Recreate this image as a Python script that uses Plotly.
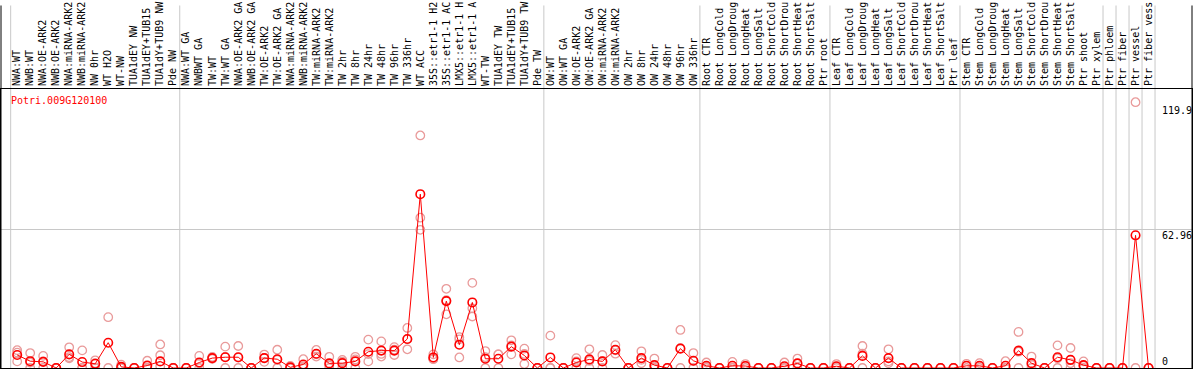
import plotly.graph_objects as go

labels = [
    "NWA:WT", "NWB:WT", "NWA:OE-ARK2", "NWB:OE-ARK2", "NWA:miRNA-ARK2", "NWB:miRNA-ARK2",
    "NW 0hr", "WT H2O", "WT-NW", "TUA1dEY NW", "TUA1dEY+TUB15", "TUA1dY+TUB9 NW", "Pde NW",
    "NWA:WT GA", "NWBWT GA", "TW:WT", "TW:WT GA", "NWA:OE-ARK2 GA", "NWB:OE-ARK2 GA",
    "TW:OE-ARK2", "TW:OE-ARK2 GA", "NWA:miRNA-ARK2", "NWB:miRNA-ARK2", "TW:miRNA-ARK2",
    "TW:miRNA-ARK2", "TW 2hr", "TW 8hr", "TW 24hr", "TW 48hr", "TW 96hr", "TW 336hr",
    "WT ACC", "35S::etr1-1 H2", "35S::etr1-1 AC", "LMX5::etr1-1 H", "LMX5::etr1-1 A",
    "WT-TW", "TUA1dEY TW", "TUA1dEY+TUB15", "TUA1dY+TUB9 TW", "Pde TW",
    "OW:WT", "OW:WT GA", "OW:OE-ARK2", "OW:OE-ARK2 GA", "OW:miRNA-ARK2", "OW:miRNA-ARK2",
    "OW 2hr", "OW 8hr", "OW 24hr", "OW 48hr", "OW 96hr", "OW 336hr",
    "Root CTR", "Root LongCold", "Root LongDroug", "Root LongHeat", "Root LongSalt",
    "Root ShortCold", "Root ShortDrou", "Root ShortHeat", "Root ShortSalt", "Ptr root",
    "Leaf CTR", "Leaf LongCold", "Leaf LongDroug", "Leaf LongHeat", "Leaf LongSalt",
    "Leaf ShortCold", "Leaf ShortDrou", "Leaf ShortHeat", "Leaf ShortSalt", "Ptr leaf",
    "Stem CTR", "Stem LongCold", "Stem LongDroug", "Stem LongHeat", "Stem LongSalt",
    "Stem ShortCold", "Stem ShortDrou", "Stem ShortHeat", "Stem ShortSalt", "Ptr shoot",
    "Ptr xylem", "Ptr phloem", "Ptr fiber", "Ptr vessel", "Ptr fiber vess",
]

means = [
    5.9, 3.1, 2.8, 0, 6.2, 2.7, 1.9, 11.5, 0.5, 0, 1.1, 3.0, 0,
    0, 2.5, 4.5, 4.9, 4.9, 0, 4.5, 4.0, 0.3, 1.6, 6.5, 2.1, 2.2, 3.0, 7.4, 7.9, 7.9, 13.2,
    79.0, 4.8, 30.4, 10.6, 29.8, 4.2, 4.2, 9.7, 5.7, 0,
    4.8, 0, 2.5, 3.9, 3.0, 8.3, 0, 4.5, 1.3, 0, 8.8, 3.3,
    1.0, 0, 1.0, 0.9, 0, 0, 0.8, 2.1, 0, 0,
    0.8, 0, 5.5, 0, 4.5, 0, 0, 0, 0, 0,
    1.0, 1.0, 0, 1.0, 7.9, 2.2, 0, 4.9, 3.7, 1.3, 0,
    0, 0, 60.3, 0,
]

rep_a = [
    8.1, 6.8, 5.5, 0, 9.4, 8.0, 3.5, 23.1, 1.5, 0, 3.3, 10.7, 0,
    0, 5.5, 5.0, 9.7, 10.0, 0, 6.1, 8.3, 0.9, 4.0, 8.2, 5.1, 3.7, 5.1, 12.9, 12.1, 9.5, 18.2,
    105.7, 6.2, 36.0, 14.0, 38.7, 7.7, 6.2, 12.6, 8.8, 0,
    14.7, 0, 4.5, 8.5, 5.9, 10.4, 0, 7.6, 4.3, 0, 17.3, 6.8,
    2.5, 0, 2.8, 1.8, 0, 0, 2.5, 4.3, 0, 0,
    1.8, 0, 10.0, 0, 8.5, 0, 0, 0, 0, 0,
    1.9, 2.2, 0, 3.1, 16.4, 5.2, 0, 10.3, 9.1, 3.0, 0,
    0, 0, 120.8, 0,
]

rep_b = [
    7.0, 2.5, 3.0, 0, 4.9, 0, 2.2, 0, 0, 0, 0, 5.8, 0,
    0, 2.0, 4.3, 5.0, 4.7, 0, 4.6, 3.7, 0, 0.8, 6.2, 1.2, 2.9, 3.9, 6.3, 6.4, 8.3, 13.0,
    68.3, 4.2, 30.8, 13.0, 27.1, 4.9, 6.2, 10.3, 6.4, 0,
    0, 0, 3.0, 3.2, 3.1, 8.0, 0, 3.7, 0, 0, 9.0, 3.2,
    0.5, 0, 0.2, 0.9, 0, 0, 0, 2.0, 0, 0,
    0.6, 0, 6.5, 0, 3.0, 0, 0, 0, 0, 0,
    1.0, 0.8, 0, 0, 7.4, 1.4, 0, 4.4, 2.2, 1.0, 0,
    0, 0, 0, 0,
]

rep_c = [
    3.0, 0, 0, 0, 4.4, 0, 0, None, 0, 0, 0, 0.8, 0,
    0, 0, 4.2, 0, 0, 0, 2.8, 0, 0, 0, 5.2, 0, 0, 0, 3.0, 5.2, 5.9, 8.5,
    62.8, 4.0, 24.4, 4.8, 23.4, 0, 0, 6.2, 1.8, 0,
    0, 0, 0, 0, 0, 6.5, 0, 2.2, 0, 0, 0, 0,
    0, 0, 0, 0, 0, 0, 0, 0, 0, 0,
    0, 0, 0, 0, 2.2, 0, 0, 0, 0, 0,
    0, 0, 0, 0, 0, 0, 0, 0, 0, 0, 0,
    0, 0, None, 0,
]

group_bounds = [-0.5, 12.5, 40.5, 52.5, 62.5, 72.5, 83.5, 84.5, 85.5, 86.5, 87.5]
y_ticks = [0, 62.96, 119.9]
gene = "Potri.009G120100"

W, H = 1194, 370
ML, MR, MT, MB = 1, 1, 85, 1
plot_w = W - ML - MR
plot_h = H - MT - MB
step = 13.015
c0 = 17.2  # pixel of first category centre
x_lo = (ML - c0) / step
x_hi = (W - MR - c0) / step
y_hi = plot_h / 2.2397

xs = list(range(len(labels)))
mono = "DejaVu Sans Mono"

fig = go.Figure()
for reps in (rep_a, rep_b, rep_c):
    fig.add_trace(go.Scatter(
        x=xs, y=reps, mode="markers",
        marker=dict(symbol="circle-open", size=8.5, color="#e99a9a",
                    line=dict(width=1.3, color="#e99a9a")),
        showlegend=False, hoverinfo="skip",
    ))
fig.add_trace(go.Scatter(
    x=xs, y=means, mode="lines+markers",
    line=dict(color="#ff0000", width=1),
    marker=dict(symbol="circle-open", size=8.5, color="#ff0000",
                line=dict(width=1.6, color="#ff0000")),
    showlegend=False,
))

top_paper = 1 + MT / plot_h
shapes = []
for b in group_bounds:
    shapes.append(dict(type="line", xref="x", yref="paper", x0=b, x1=b, y0=0, y1=top_paper,
                       line=dict(color="#c8c8c8", width=1), layer="below"))
for xp in (0, 1):
    shapes.append(dict(type="line", xref="paper", yref="paper", x0=xp, x1=xp, y0=0, y1=top_paper,
                       line=dict(color="black", width=1)))

annotations = [dict(
    text=gene, xref="paper", yref="paper", x=(10 - ML) / plot_w, y=1 - (97 - MT) / plot_h,
    xanchor="left", yanchor="middle", showarrow=False, borderpad=0,
    font=dict(family=mono, size=10, color="#ff0000"),
)]
for v in y_ticks:
    annotations.append(dict(
        text=("0" if v == 0 else str(v)), xref="paper", yref="y",
        x=(1162 - ML) / plot_w, y=v, xanchor="left",
        yanchor=("bottom" if v == 0 else "top"), showarrow=False, borderpad=0,
        font=dict(family=mono, size=10, color="black"),
    ))

fig.update_layout(
    width=W, height=H,
    margin=dict(l=ML, r=MR, t=MT, b=MB, pad=0),
    paper_bgcolor="white", plot_bgcolor="white",
    shapes=shapes, annotations=annotations,
    xaxis=dict(
        range=[x_lo, x_hi], side="top", tickmode="array", tickvals=xs, ticktext=labels,
        tickangle=-90, tickfont=dict(family=mono, size=10, color="black"),
        ticks="", ticklen=0, showgrid=False, zeroline=False,
        showline=True, mirror=True, linecolor="black", linewidth=1,
    ),
    yaxis=dict(
        range=[0, y_hi], tickmode="array", tickvals=[62.96], showticklabels=False,
        showgrid=True, gridcolor="#c8c8c8", gridwidth=1, zeroline=False,
        showline=True, mirror=True, linecolor="black", linewidth=1, ticks="",
    ),
)

fig.write_html(
    "out.html",
    config={"displayModeBar": False},
    post_script="document.body.style.margin='0';document.body.style.overflow='hidden';",
)
